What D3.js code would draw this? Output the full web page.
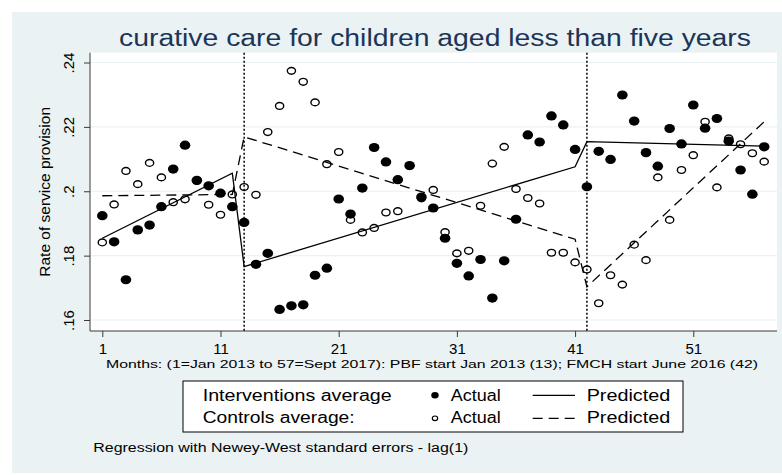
<!DOCTYPE html>
<html>
<head>
<meta charset="utf-8">
<script src="https://cdn.jsdelivr.net/npm/d3@7"></script>
<style>
  html, body { margin: 0; padding: 0; background: #ffffff; }
  svg { display: block; font-family: "Liberation Sans", Arial, Helvetica, sans-serif; }
</style>
</head>
<body>
<svg id="chart" width="782" height="475"></svg>
<script>
// Monthly rates of curative care for under-fives, Jan 2013 (1) to Sept 2017 (57)
const months = d3.range(1, 58);

const interventionActual = [
  0.1924, 0.1843, 0.1725, 0.1880, 0.1895, 0.1952, 0.2069, 0.2143, 0.2034, 0.2017,
  0.1994, 0.1952, 0.1903, 0.1773, 0.1807, 0.1633, 0.1644, 0.1647, 0.1739, 0.1761,
  0.1976, 0.1929, 0.2010, 0.2136, 0.2091, 0.2036, 0.2080, 0.1982, 0.1948, 0.1854,
  0.1776, 0.1737, 0.1788, 0.1668, 0.1784, 0.1913, 0.2175, 0.2153, 0.2234, 0.2206,
  0.2130, 0.2014, 0.2124, 0.2099, 0.2299, 0.2218, 0.2120, 0.2078, 0.2195, 0.2147,
  0.2268, 0.2196, 0.2226, 0.2156, 0.2066, 0.1991, 0.2138
];

const controlActual = [
  0.1841, 0.1959, 0.2063, 0.2022, 0.2088, 0.2043, 0.1966, 0.1975, 0.2032, 0.1958,
  0.1927, 0.1990, 0.2013, 0.1989, 0.2184, 0.2265, 0.2374, 0.2340, 0.2276, 0.2084,
  0.2122, 0.1911, 0.1872, 0.1886, 0.1934, 0.1938, 0.2078, 0.1978, 0.2004, 0.1873,
  0.1807, 0.1815, 0.1955, 0.2086, 0.2138, 0.2007, 0.1979, 0.1962, 0.1809, 0.1809,
  0.1779, 0.1757, 0.1652, 0.1739, 0.1710, 0.1834, 0.1786, 0.2043, 0.1911, 0.2066,
  0.2112, 0.2216, 0.2012, 0.2164, 0.2146, 0.2118, 0.2092
];

// Segmented-regression fits: vertices at the start/end of each period
const predictedMonths = [1, 12, 13, 41, 42, 57];
const interventionPredicted = [0.1854, 0.2056, 0.1766, 0.2076, 0.2154, 0.2140];
const controlPredicted = [0.1986, 0.1990, 0.2169, 0.1851, 0.1703, 0.2216];

// PBF start (13) and FMCH start (42)
const interruptionMonths = [13, 42];

const xTickValues = [1, 11, 21, 31, 41, 51];
const yTickValues = [0.16, 0.18, 0.20, 0.22, 0.24];

const titleText = "curative care for children aged less than five years";
const yAxisTitle = "Rate of service provision";
const xAxisTitle = "Months: (1=Jan 2013 to 57=Sept 2017): PBF start Jan 2013 (13); FMCH start June 2016 (42)";
const legendGroups = ["Interventions average", "Controls average:"];
const legendActual = "Actual";
const legendPredicted = "Predicted";
const footNote = "Regression with Newey-West standard errors - lag(1)";

// ---- layout ----
const frame = { left: 12, top: 12, right: 782, bottom: 473 };
const plot = { left: 90, right: 777, top: 52.7, bottom: 331 };
const bg = "#eaf2f3";

const svg = d3.select("#chart");

svg.append("rect")
  .attr("x", frame.left).attr("y", frame.top)
  .attr("width", frame.right - frame.left).attr("height", frame.bottom - frame.top)
  .attr("fill", bg);

svg.append("rect")
  .attr("x", plot.left).attr("y", plot.top)
  .attr("width", plot.right - plot.left).attr("height", plot.bottom - plot.top)
  .attr("fill", "#ffffff");

const x = d3.scaleLinear().domain([1, 57]).range([102.3, 764.2]);
const y = d3.scaleLinear().domain([0.16, 0.24]).range([320, 62.5]);

const yTickFormat = v => d3.format(".2f")(v).replace(/^0/, "").replace(/0$/, "");

// grid lines
svg.append("g")
  .selectAll("line")
  .data(yTickValues)
  .join("line")
  .attr("x1", plot.left).attr("x2", plot.right)
  .attr("y1", d => y(d)).attr("y2", d => y(d))
  .attr("stroke", bg).attr("stroke-width", 1.2);

// y axis
const yAxis = svg.append("g")
  .attr("transform", `translate(${plot.left},0)`)
  .call(d3.axisLeft(y).tickValues(yTickValues).tickFormat(yTickFormat).tickSize(6).tickSizeOuter(0));
yAxis.select(".domain").attr("d", `M0,${plot.top}V${plot.bottom}`).attr("stroke", "#3a3a3a");
yAxis.selectAll(".tick line").attr("stroke", "#3a3a3a");
yAxis.selectAll(".tick text")
  .attr("transform", "rotate(-90)")
  .attr("x", 0).attr("y", -16.5).attr("dy", 0)
  .attr("text-anchor", "middle")
  .attr("fill", "#000")
  .style("font-size", "15px");

// x axis
const xAxis = svg.append("g")
  .attr("transform", `translate(0,${plot.bottom})`)
  .call(d3.axisBottom(x).tickValues(xTickValues).tickFormat(d3.format("d")).tickSize(6).tickSizeOuter(0));
xAxis.select(".domain").attr("d", `M${plot.left},0H${plot.right}`).attr("stroke", "#3a3a3a");
xAxis.selectAll(".tick line").attr("stroke", "#3a3a3a");
xAxis.selectAll(".tick text")
  .attr("y", 23).attr("dy", 0)
  .attr("fill", "#000")
  .style("font-size", "15px");
svg.selectAll(".tick text").style("font-family", "'Liberation Sans', Arial, sans-serif");

// actual values
const filledRx = 5.3, filledRy = 4.6;
const hollowRx = 4.1, hollowRy = 3.4;

svg.append("g")
  .selectAll("ellipse")
  .data(months)
  .join("ellipse")
  .attr("cx", (m) => x(m))
  .attr("cy", (m, i) => y(interventionActual[i]))
  .attr("rx", filledRx).attr("ry", filledRy)
  .attr("fill", "#000");

svg.append("g")
  .selectAll("ellipse")
  .data(months)
  .join("ellipse")
  .attr("cx", (m) => x(m))
  .attr("cy", (m, i) => y(controlActual[i]))
  .attr("rx", hollowRx).attr("ry", hollowRy)
  .attr("fill", "none")
  .attr("stroke", "#000").attr("stroke-width", 1.4);

// predicted lines
const fitLine = d3.line()
  .x(d => x(d[0]))
  .y(d => y(d[1]));

svg.append("path")
  .datum(predictedMonths.map((m, i) => [m, interventionPredicted[i]]))
  .attr("d", fitLine)
  .attr("fill", "none").attr("stroke", "#000").attr("stroke-width", 1.3);

svg.append("path")
  .datum(predictedMonths.map((m, i) => [m, controlPredicted[i]]))
  .attr("d", fitLine)
  .attr("fill", "none").attr("stroke", "#000").attr("stroke-width", 1.3)
  .attr("stroke-dasharray", "10,6");

// intervention start lines
svg.append("g")
  .selectAll("line")
  .data(interruptionMonths)
  .join("line")
  .attr("x1", d => x(d)).attr("x2", d => x(d))
  .attr("y1", plot.top).attr("y2", plot.bottom)
  .attr("stroke", "#000").attr("stroke-width", 1.5)
  .attr("stroke-dasharray", "2,2");

// texts
function stretchedText(sel, str, opts) {
  return sel.append("text")
    .attr("x", opts.x).attr("y", opts.y)
    .attr("text-anchor", opts.anchor || "start")
    .attr("textLength", opts.len)
    .attr("lengthAdjust", "spacingAndGlyphs")
    .attr("fill", opts.fill || "#000")
    .style("font-size", opts.size + "px")
    .text(str);
}

stretchedText(svg, titleText, { x: 435, y: 46, anchor: "middle", len: 632, size: 23, fill: "#1c3557" });

svg.append("text")
  .attr("transform", `translate(49.5,${(plot.top + plot.bottom) / 2}) rotate(-90)`)
  .attr("text-anchor", "middle")
  .style("font-size", "15.5px")
  .attr("fill", "#000")
  .text(yAxisTitle);

stretchedText(svg, xAxisTitle, { x: 106, y: 368, len: 652, size: 11.5 });

// legend
const legend = svg.append("g");
legend.append("rect")
  .attr("x", 183).attr("y", 381).attr("width", 500).attr("height", 51)
  .attr("fill", "#ffffff").attr("stroke", "#000").attr("stroke-width", 1);

const rowBase = [400.7, 423.3];
const rowMid = [395.3, 418.3];
stretchedText(legend, legendGroups[0], { x: 202.7, y: rowBase[0], len: 189, size: 16 });
stretchedText(legend, legendGroups[1], { x: 202.7, y: rowBase[1], len: 152, size: 16 });
rowBase.forEach((b) => {
  stretchedText(legend, legendActual, { x: 450.7, y: b, len: 50, size: 16 });
  stretchedText(legend, legendPredicted, { x: 586.7, y: b, len: 83.5, size: 16 });
});
legend.append("ellipse")
  .attr("cx", 435).attr("cy", rowMid[0]).attr("rx", 3.7).attr("ry", 3.3).attr("fill", "#000");
legend.append("ellipse")
  .attr("cx", 435).attr("cy", rowMid[1]).attr("rx", 2.7).attr("ry", 2.3)
  .attr("fill", "none").attr("stroke", "#000").attr("stroke-width", 1.2);
legend.append("line")
  .attr("x1", 532.7).attr("x2", 575).attr("y1", rowMid[0]).attr("y2", rowMid[0])
  .attr("stroke", "#000").attr("stroke-width", 1.3);
legend.append("line")
  .attr("x1", 532.7).attr("x2", 575).attr("y1", rowMid[1]).attr("y2", rowMid[1])
  .attr("stroke", "#000").attr("stroke-width", 1.3)
  .attr("stroke-dasharray", "10,6");

stretchedText(svg, footNote, { x: 93.3, y: 451.5, len: 375, size: 12 });
</script>
</body>
</html>
